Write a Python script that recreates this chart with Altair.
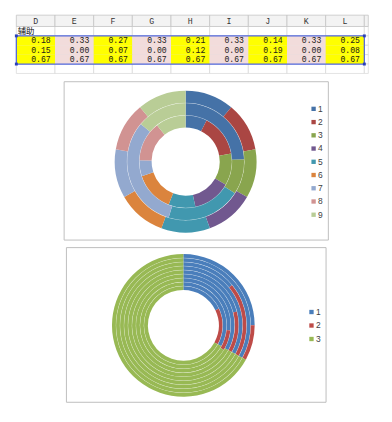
import math
import altair as alt
import pandas as pd

# ---------------- data ----------------
columns = ["D", "E", "F", "G", "H", "I", "J", "K", "L"]
aux_label = "辅助"
aux_row1 = [0.18, 0.33, 0.27, 0.33, 0.21, 0.33, 0.14, 0.33, 0.25]
aux_row2 = [0.15, 0.00, 0.07, 0.00, 0.12, 0.00, 0.19, 0.00, 0.08]
aux_row3 = [0.67, 0.67, 0.67, 0.67, 0.67, 0.67, 0.67, 0.67, 0.67]

chart1_categories = ["1", "2", "3", "4", "5", "6", "7", "8", "9"]
chart1_inner = [7.5, 14.7, 11.1, 13.3, 9.4, 13.9, 5.6, 13.9, 10.6]
chart1_middle = [24.4, 0.0, 9.7, 0.0, 20.6, 0.0, 31.4, 0.0, 13.9]
chart1_outer = [11.1, 11.1, 11.1, 11.1, 11.1, 11.1, 11.1, 11.1, 11.1]
chart1_colors = ["#4572A7", "#AA4643", "#89A54E", "#71588F", "#4198AF",
                 "#DB843D", "#93A9CF", "#D19392", "#B9CD96"]

chart2_categories = ["1", "2", "3"]
chart2_colors = ["#4A7EBB", "#BE4B48", "#98B954"]

# layout scale factors (the page has an 8px margin, so the layout is compressed a little)
SX, SY, SR = 0.95, 0.95, 0.95

# ---------------- table (spreadsheet strip) ----------------
REF_W, REF_TH = 392, 63.5
TW, TH = REF_W * SX, REF_TH * SY
x_left, col_w = 8.7, 42.0
head_h, row_h = 12.3, 10.2
x_max = (REF_W - 1.0 - x_left) / col_w
xs = alt.Scale(domain=[-x_left / col_w, (REF_W - x_left) / col_w], nice=False, zero=False)
y_top = -head_h / row_h
ys = alt.Scale(domain=[y_top, (REF_TH - head_h) / row_h], nice=False, zero=False, reverse=True)

ncol = len(columns)
head_df = pd.DataFrame([
    dict(c0=i, c1=min(i + 1, x_max), r0=y_top, r1=0, rc=y_top / 2, cx=i + 0.5,
         label=(columns[i] if i < ncol else "")) for i in range(ncol + 1)])
grid_df = pd.DataFrame([dict(c0=i, c1=min(i + 1, x_max), r0=r, r1=r + 1)
                        for r in range(5) for i in range(ncol + 1)])
rows = [aux_row1, aux_row2, aux_row3]
cell_df = pd.DataFrame([
    dict(c0=i, c1=i + 1, r0=r + 1, r1=r + 2, rc=r + 1.5,
         kind=("a" if i % 2 == 0 else "b"), txt=f"{v:.2f}")
    for r, vals in enumerate(rows) for i, v in enumerate(vals)])
sel_df = pd.DataFrame([dict(c0=0, c1=ncol, r0=1, r1=1 + len(rows))])
handle_df = pd.DataFrame([dict(c=c, r=r) for c in (0, ncol) for r in (1, 1 + len(rows))])
label_df = pd.DataFrame([dict(c=0, r=0.5, txt=aux_label)])

def X(f):
    return alt.X(f, type="quantitative", scale=xs, axis=None)

def Y(f):
    return alt.Y(f, type="quantitative", scale=ys, axis=None)

head_bg = alt.Chart(head_df).mark_rect(fill="#f3f3f3", stroke="#c4c4c4", strokeWidth=0.8).encode(
    x=X("c0"), x2="c1", y=Y("r0"), y2="r1")
head_txt = alt.Chart(head_df).mark_text(font="Liberation Mono", fontSize=8.5, color="#333333",
                                        baseline="middle", align="center").encode(
    x=X("cx"), y=Y("rc"), text="label:N")
grid = alt.Chart(grid_df).mark_rect(fill="white", stroke="#d6d6d6", strokeWidth=0.7).encode(
    x=X("c0"), x2="c1", y=Y("r0"), y2="r1")
cells = alt.Chart(cell_df).mark_rect().encode(
    x=X("c0"), x2="c1", y=Y("r0"), y2="r1",
    color=alt.Color("kind:N", scale=alt.Scale(domain=["a", "b"], range=["#ffff00", "#f2dcdb"]),
                    legend=None))
cell_txt = alt.Chart(cell_df).mark_text(font="Liberation Mono", fontSize=8.4, color="#1a1a1a",
                                        align="right", baseline="middle", dx=-4.5).encode(
    x=X("c1"), y=Y("rc"), text="txt:N")
aux_txt = alt.Chart(label_df).mark_text(font="Noto Sans CJK SC", fontSize=8.6, color="#111111",
                                        align="left", baseline="middle", dx=1.5).encode(
    x=X("c"), y=Y("r"), text="txt:N")
sel = alt.Chart(sel_df).mark_rect(fillOpacity=0, stroke="#5368dc", strokeWidth=1.3).encode(
    x=X("c0"), x2="c1", y=Y("r0"), y2="r1")
handles = alt.Chart(handle_df).mark_square(size=9, color="#2b3fb8", opacity=1).encode(
    x=X("c"), y=Y("r"))

table = alt.layer(grid, head_bg, head_txt, cells, cell_txt, aux_txt, sel, handles).properties(
    width=TW, height=TH)

# ---------------- donuts ----------------
def donut_frame(rings, cats):
    recs = []
    for k, vals in enumerate(rings):
        tot = float(sum(vals))
        acc = 0.0
        for c, v in zip(cats, vals):
            if v > 0:
                recs.append(dict(ring=k, ring2=k + 1, cat=c, t0=acc / tot, t1=(acc + v) / tot))
            acc += v
    return pd.DataFrame(recs)


def donut_panel(rings, cats, colors, w, h, cx, cy, r0, r1, sep, lx, ly0, ly1):
    n = len(rings)
    df = donut_frame(rings, cats)
    color = alt.Color("cat:N", scale=alt.Scale(domain=cats, range=colors), legend=None)
    th = alt.Scale(domain=[0, 1], range=[0, 2 * math.pi], zero=False, nice=False)
    rs = alt.Scale(type="linear", domain=[0, n], range=[r0 * SR, r1 * SR], zero=False, nice=False)
    arcs = alt.Chart(df).mark_arc().encode(
        theta=alt.Theta("t0:Q", scale=th), theta2="t1:Q",
        radius=alt.Radius("ring:Q", scale=rs), radius2="ring2:Q",
        x=alt.value(cx * SX), y=alt.value(cy * SY), color=color)
    sep_df = pd.DataFrame([dict(a=k - sep / 2, b=k + sep / 2, t0=0.0, t1=1.0) for k in range(1, n)])
    seps = alt.Chart(sep_df).mark_arc(color="white", opacity=0.45).encode(
        theta=alt.Theta("t0:Q", scale=th), theta2="t1:Q",
        radius=alt.Radius("a:Q", scale=rs), radius2="b:Q",
        x=alt.value(cx * SX), y=alt.value(cy * SY))
    leg_df = pd.DataFrame([dict(cat=c, idx=i + 1) for i, c in enumerate(cats)])
    ly = alt.Y("idx:Q", scale=alt.Scale(domain=[1, len(cats)], range=[ly0 * SY, ly1 * SY],
                                        nice=False, zero=False), axis=None)
    sq = alt.Chart(leg_df).mark_square(size=20, opacity=1).encode(
        x=alt.value(lx * SX), y=ly, color=color)
    txt = alt.Chart(leg_df).mark_text(font="Liberation Sans", fontSize=8.7, color="#404040",
                                      align="left", baseline="middle").encode(
        x=alt.value(lx * SX + 4.6), y=ly, text="cat:N")
    return alt.layer(arcs, seps, sq, txt).properties(
        width=w * SX, height=h * SY,
        view=alt.ViewBackground(stroke="#bdbdbd", strokeWidth=1, fill="white"))


panel1 = donut_panel([chart1_inner, chart1_middle, chart1_outer], chart1_categories, chart1_colors,
                     287, 172, 132.5, 87.3, 37, 77, 0.04, 271.5, 30, 145)

chart2_rings = [[a, b, c] for a, b, c in zip(aux_row1, aux_row2, aux_row3)]
panel2 = donut_panel(chart2_rings, chart2_categories, chart2_colors,
                     282, 168, 127.5, 85.0, 38.5, 77.5, 0.12, 266.7, 70.5, 99.8)

chart = alt.vconcat(table, panel1, panel2, spacing=6.5 * SY, center=True,
                    padding=0, background="white").resolve_scale(
    x="independent", y="independent", color="independent",
    theta="independent", radius="independent").configure_view(stroke="transparent", strokeWidth=0)

chart.save("out.html", embed_options={"renderer": "svg", "actions": False})
